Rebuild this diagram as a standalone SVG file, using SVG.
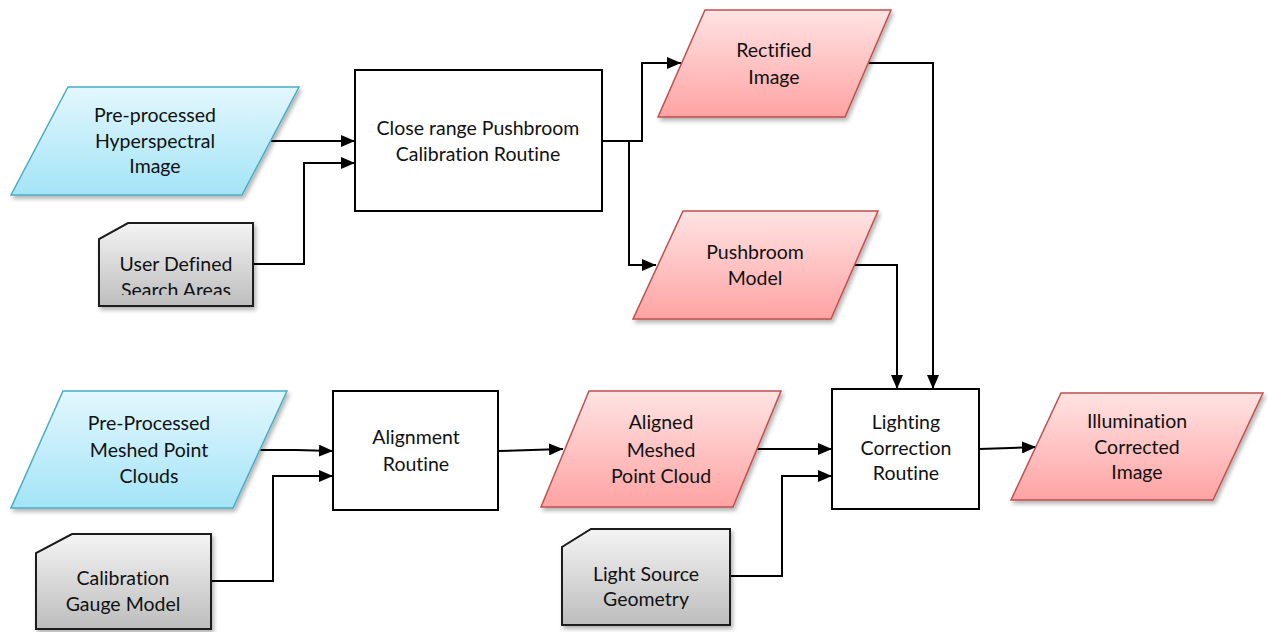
<svg xmlns="http://www.w3.org/2000/svg" width="1268" height="632" viewBox="0 0 1268 632">
  <style>
    .lbl { font-family: Lato, "Open Sans", "Liberation Sans", sans-serif; font-size: 19.5px; fill: #111; text-anchor: middle; font-variant-ligatures: none; }
    .box { fill: #fff; stroke: #000; stroke-width: 2; }
    .inp { fill: url(#gBlue); stroke: #4bacc6; stroke-width: 1.5; filter: url(#shadow); }
    .out { fill: url(#gRed); stroke: #c0504d; stroke-width: 1.5; filter: url(#shadow); }
    .doc { fill: url(#gGray); stroke: #1a1a1a; stroke-width: 2; filter: url(#shadow); }
    .wire { fill: none; stroke: #000; stroke-width: 2; }
    .arr { marker-end: url(#head); }
  </style>
  <defs>
    <linearGradient id="gBlue" x1="0" y1="0" x2="0" y2="1">
      <stop offset="0" stop-color="#e3f7fd"/>
      <stop offset="1" stop-color="#a3e4f7"/>
    </linearGradient>
    <linearGradient id="gRed" x1="0" y1="0" x2="0" y2="1">
      <stop offset="0" stop-color="#ffe3e3"/>
      <stop offset="1" stop-color="#ffa3a3"/>
    </linearGradient>
    <linearGradient id="gGray" x1="0" y1="0" x2="0" y2="1">
      <stop offset="0" stop-color="#f4f4f4"/>
      <stop offset="1" stop-color="#bdbdbd"/>
    </linearGradient>
    <filter id="shadow" x="-10%" y="-10%" width="125%" height="130%">
      <feDropShadow dx="2" dy="3" stdDeviation="2" flood-color="#000" flood-opacity="0.3"/>
    </filter>
    <marker id="head" viewBox="0 0 14 12" refX="14" refY="6" markerWidth="14" markerHeight="12" markerUnits="userSpaceOnUse" orient="auto">
      <path d="M0,0 L14,6 L0,12 Z" fill="#000"/>
    </marker>
    <clipPath id="clipSearch">
      <rect x="99" y="223" width="155" height="72"/>
    </clipPath>
  </defs>

  <!-- connectors -->
  <g id="connectors">
    <path class="wire arr" d="M269,141 L355,141"/>
    <path class="wire arr" d="M253,264 L304,264 L304,163 L355,163"/>
    <path class="wire arr" d="M602,141 L642,141 L642,63 L681,63"/>
    <path class="wire arr" d="M629,141 L629,265 L656,265"/>
    <path class="wire arr" d="M868,63 L933,63 L933,389"/>
    <path class="wire arr" d="M854,265 L897,265 L897,389"/>
    <path class="wire arr" d="M260,450 L296,450 L333,451"/>
    <path class="wire arr" d="M211,581 L273,581 L273,476 L333,476"/>
    <path class="wire arr" d="M498,451 L563,449"/>
    <path class="wire arr" d="M757,449 L832,449"/>
    <path class="wire arr" d="M730,576 L782,576 L782,476 L832,476"/>
    <path class="wire arr" d="M979,449 L1036,447"/>
  </g>

  <!-- inputs -->
  <g id="hyperspectral">
    <polygon class="inp" points="68,87 299,87 242,195 11,195"/>
    <text class="lbl" x="155" y="122">Pre-processed</text>
    <text class="lbl" x="155" y="148">Hyperspectral</text>
    <text class="lbl" x="155" y="173">Image</text>
  </g>
  <g id="search-areas">
    <path class="doc" d="M128,223 L253,223 L253,306 L99,306 L99,239 Z"/>
    <g clip-path="url(#clipSearch)">
      <text class="lbl" x="176" y="271">User Defined</text>
      <text class="lbl" x="176" y="297">Search Areas</text>
    </g>
  </g>
  <g id="point-clouds">
    <polygon class="inp" points="63,391 287,391 233,508 11,508"/>
    <text class="lbl" x="149" y="430">Pre-Processed</text>
    <text class="lbl" x="149" y="457">Meshed Point</text>
    <text class="lbl" x="149" y="483">Clouds</text>
  </g>
  <g id="gauge-model">
    <path class="doc" d="M72,534 L211,534 L211,629 L36,629 L36,553 Z"/>
    <text class="lbl" x="123" y="585">Calibration</text>
    <text class="lbl" x="123" y="611">Gauge Model</text>
  </g>
  <g id="light-source">
    <path class="doc" d="M591,529 L730,529 L730,625 L562,625 L562,547 Z"/>
    <text class="lbl" x="646" y="581">Light Source</text>
    <text class="lbl" x="646" y="606">Geometry</text>
  </g>

  <!-- processes -->
  <g id="calibration-routine">
    <rect class="box" x="355" y="70" width="247" height="141"/>
    <text class="lbl" x="478" y="135">Close range Pushbroom</text>
    <text class="lbl" x="478" y="161">Calibration Routine</text>
  </g>
  <g id="alignment-routine">
    <rect class="box" x="333" y="391" width="165" height="119"/>
    <text class="lbl" x="416" y="444">Alignment</text>
    <text class="lbl" x="416" y="471">Routine</text>
  </g>
  <g id="lighting-routine">
    <rect class="box" x="832" y="389" width="147" height="120"/>
    <text class="lbl" x="906" y="429">Lighting</text>
    <text class="lbl" x="906" y="455">Correction</text>
    <text class="lbl" x="906" y="480">Routine</text>
  </g>

  <!-- outputs -->
  <g id="rectified-image">
    <polygon class="out" points="705,10 891,10 845,117 658,117"/>
    <text class="lbl" x="774" y="57">Rectified</text>
    <text class="lbl" x="774" y="84">Image</text>
  </g>
  <g id="pushbroom-model">
    <polygon class="out" points="683,211 878,211 831,319 633,319"/>
    <text class="lbl" x="755" y="259">Pushbroom</text>
    <text class="lbl" x="755" y="285">Model</text>
  </g>
  <g id="aligned-cloud">
    <polygon class="out" points="589,391 781,391 733,507 541,507"/>
    <text class="lbl" x="661" y="429">Aligned</text>
    <text class="lbl" x="661" y="457">Meshed</text>
    <text class="lbl" x="661" y="483">Point Cloud</text>
  </g>
  <g id="illumination-corrected">
    <polygon class="out" points="1061,393 1263,393 1213,500 1011,500"/>
    <text class="lbl" x="1137" y="428">Illumination</text>
    <text class="lbl" x="1137" y="454">Corrected</text>
    <text class="lbl" x="1137" y="479">Image</text>
  </g>
</svg>
